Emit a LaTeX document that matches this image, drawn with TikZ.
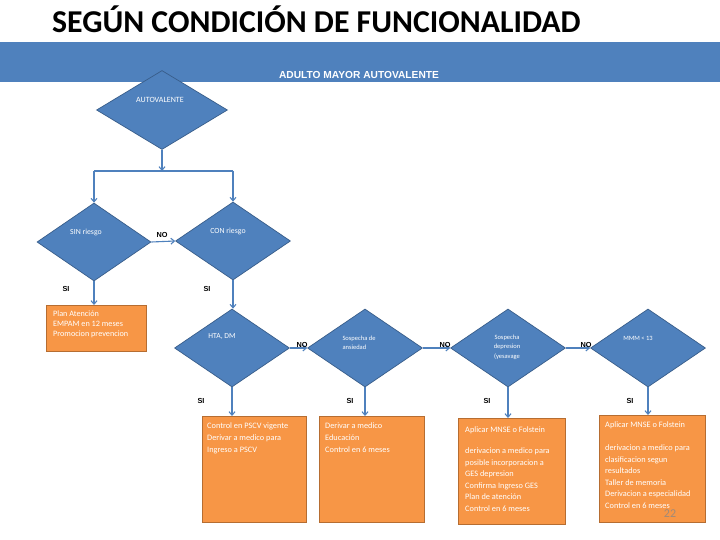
\documentclass[tikz,border=0pt]{standalone}
\usepackage{fontspec}
\setmainfont{Carlito}
\newfontfamily\arialf{Liberation Sans}
\usetikzlibrary{shapes.geometric,arrows.meta}
\definecolor{dblue}{HTML}{4F81BD}
\definecolor{dblueb}{HTML}{385D8A}
\definecolor{orng}{HTML}{F79646}
\definecolor{orngb}{HTML}{B66D31}
\definecolor{pgcol}{HTML}{A08A78}
\begin{document}
\begin{tikzpicture}[x=1pt,y=-1pt,
  dec/.style={diamond, draw=dblueb, fill=dblue, line width=0.7pt, inner sep=0pt},
  box/.style={rectangle, draw=orngb, fill=orng, line width=0.7pt, inner sep=0pt, anchor=north west},
  dtext/.style={text=white, font=\fontsize{6.5}{9.5}\selectfont, align=center, inner sep=0pt},
  btext/.style={text=white, font=\fontsize{8.3}{11.6}\selectfont, align=left, anchor=north west, inner sep=0pt},
  lbl/.style={font=\arialf\bfseries\fontsize{7.3}{8}\selectfont, inner sep=0pt},
  conn/.style={draw=dblue, line width=1.1pt},
  arr/.style={conn, -{Straight Barb[length=3.5pt,width=6pt]}},
]
\useasboundingbox (0,0) rectangle (720,540);
\fill[white] (0,0) rectangle (720,540);

% title and band
\node[anchor=base west, inner sep=0pt, font=\bfseries\fontsize{31.8}{34}\selectfont] (title) at (52,33) {SEGÚN CONDICIÓN DE FUNCIONALIDAD};
\node[fill=dblue, draw=none, inner sep=0pt, anchor=north west, minimum width=720, minimum height=40] (band) at (0,42) {};
\node[text=white, inner sep=0pt, font=\arialf\bfseries\fontsize{10.2}{11}\selectfont] (bandt) at (359,75) {ADULTO MAYOR AUTOVALENTE};

% diamonds
\node[dec, minimum width=131, minimum height=79] (auto) at (162,110) {};
\node[dec, minimum width=114, minimum height=78] (sin) at (94,242) {};
\node[dec, minimum width=115, minimum height=78] (con) at (233,241) {};
\node[dec, minimum width=115, minimum height=78] (hta) at (232,348) {};
\node[dec, minimum width=115, minimum height=78] (ans) at (365,348) {};
\node[dec, minimum width=115, minimum height=78] (dep) at (508,348) {};
\node[dec, minimum width=115, minimum height=78] (mmm) at (648,348) {};

\node[dtext, font=\fontsize{8}{9}\selectfont] (tauto) at (160,100) {AUTOVALENTE};
\node[dtext, font=\fontsize{7.8}{9}\selectfont] (tsin) at (86,232) {SIN riesgo};
\node[dtext, font=\fontsize{7.8}{9}\selectfont] (tcon) at (228,231) {CON riesgo};
\node[dtext, font=\fontsize{7.6}{9}\selectfont] (thta) at (222,337) {HTA, DM};
\node[dtext, align=left] (tans) at (359,343) {Sospecha de\\ansiedad};
\node[dtext] (tdep) at (507,347) {Sospecha\\depresion\\(yesavage};
\node[dtext] (tmmm) at (638,338) {MMM < 13};

% boxes
\node[box, minimum width=100, minimum height=46] (plan) at (46,305) {};
\node[box, minimum width=104, minimum height=106] (b1) at (202,416) {};
\node[box, minimum width=105, minimum height=106] (b2) at (319,416) {};
\node[box, minimum width=107, minimum height=106] (b3) at (458,418) {};
\node[box, minimum width=106, minimum height=107] (b4) at (599,415) {};

\node[btext, font=\fontsize{8.2}{9.6}\selectfont] (tplan) at ([xshift=7pt,yshift=-6pt]plan.north west) {Plan Atención\\EMPAM en 12 meses\\Promocion prevencion};
\node[btext] (tb1) at ([xshift=5pt,yshift=-7pt]b1.north west) {Control en PSCV vigente\\Derivar a medico para\\Ingreso a PSCV};
\node[btext] (tb2) at ([xshift=6pt,yshift=-7pt]b2.north west) {Derivar a medico\\Educación\\Control en 6 meses};
\node[btext] (tb3) at ([xshift=7pt,yshift=-9pt]b3.north west) {Aplicar MNSE o Folstein\\[9pt]derivacion a medico para\\posible incorporacion a\\GES depresion\\Confirma Ingreso GES\\Plan de atención\\Control en 6 meses};
\node[btext] (tb4) at ([xshift=6pt,yshift=-7pt]b4.north west) {Aplicar MNSE o Folstein\\[11pt]derivacion a medico para\\clasificacion segun\\resultados\\Taller de memoria\\Derivacion a especialidad\\Control en 6 meses};
\node[text=pgcol, inner sep=0pt, font=\fontsize{12}{12}\selectfont] (pg) at (670,514) {22};

% connectors
\coordinate (jc) at (162,171);
\coordinate (jl) at (94,171);
\coordinate (jr) at (233,171);
\draw[arr] (auto.south) -- (jc);
\draw[conn] (jl) -- (jr);
\draw[arr] (jl) -- (sin.north);
\draw[arr] (jr) -- (con.north);
\draw[arr] (sin.east) -- (con.west);
\draw[arr] (sin.south) -- (sin.south |- plan.north);
\draw[arr] (con.south) -- (con.south |- hta.north);
\draw[arr] (hta.east) -- (ans.west);
\draw[arr] (ans.east) -- (dep.west);
\draw[arr] (dep.east) -- (mmm.west);
\draw[arr] (hta.south) -- (hta.south |- b1.north);
\draw[arr] (ans.south) -- (ans.south |- b2.north);
\draw[arr] (dep.south) -- (dep.south |- b3.north);
\draw[arr] (mmm.south) -- (mmm.south |- b4.north);

% labels
\node[lbl] (no1) at (162,235) {NO};
\node[lbl] (si1) at (66,289) {SI};
\node[lbl] (si2) at (207,289) {SI};
\node[lbl] (no2) at (302,345) {NO};
\node[lbl] (no3) at (445,345) {NO};
\node[lbl] (no4) at (586,345) {NO};
\node[lbl] (si3) at (201,401) {SI};
\node[lbl] (si4) at (350,401) {SI};
\node[lbl] (si5) at (487,401) {SI};
\node[lbl] (si6) at (630,401) {SI};
\end{tikzpicture}
\end{document}
